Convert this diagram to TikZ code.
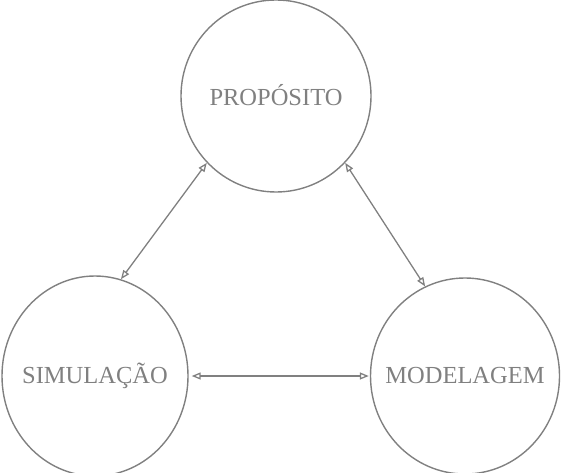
\documentclass[tikz,border=0pt]{standalone}
\usepackage{fontspec}
\setmainfont{Liberation Serif}
\usetikzlibrary{arrows.meta,shapes.geometric}
\definecolor{sk}{RGB}{128,128,128}
\newcommand{\zw}[1]{\makebox[0pt]{\raisebox{2pt}{#1}}}
\begin{document}
\begin{tikzpicture}[x=1pt,y=1pt,
  circ/.style={draw=sk, line width=1.4pt, ellipse, inner sep=0pt, text=sk, font=\fontsize{24.5}{28}\selectfont},
  link/.style={draw=sk, line width=1.3pt, {Triangle[open,length=9pt,width=7pt]}-{Triangle[open,length=9pt,width=7pt]}}]
\useasboundingbox (0,0) rectangle (561,472);
\node[circ, minimum width=190pt, minimum height=192pt] (p) at (276,376) {\zw{PROPÓSITO}};
\node[circ, minimum width=186pt, minimum height=200pt] (s) at (95,96) {\zw{SIMULAÇÃO}};
\node[circ, minimum width=189pt, minimum height=196pt] (m) at (465,96) {\zw{MODELAGEM}};
\draw[link] (p.224) -- (s.75);
\draw[link] (p.316) -- (m.114);
\draw[link, shorten <=3pt, shorten >=1pt] (s.east) -- (m.west);
\end{tikzpicture}
\end{document}
